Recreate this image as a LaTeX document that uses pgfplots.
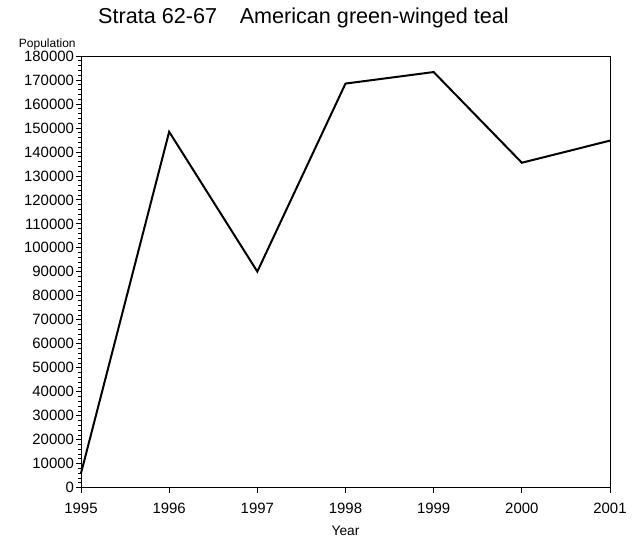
\documentclass[border=0pt]{standalone}
\usepackage{pgfplots}
\pgfplotsset{compat=1.18}
\usepackage{fontspec}
\setmainfont{Liberation Sans}
\begin{document}
\begin{tikzpicture}
\begin{axis}[
  name=ax,
  scale only axis,
  width=396.75pt, height=323.75pt,
  xmin=1995, xmax=2001,
  ymin=0, ymax=180000,
  xtick={1995,1996,...,2001},
  ytick={0,10000,...,180000},
  minor x tick num=9,
  minor y tick num=4,
  tick align=outside,
  xtick pos=bottom, ytick pos=left,
  major tick length=3.75pt,
  minor tick length=2pt,
  axis line style={line width=0.6pt},
  tick style={line width=0.6pt, black},
  scaled ticks=false,
  /pgf/number format/assume math mode=true,
  xticklabel={\pgfmathprintnumber[fixed,1000 sep={}]{\tick}},
  yticklabel={\pgfmathprintnumber[fixed,1000 sep={}]{\tick}},
  ticklabel style={font=\fontsize{11.2pt}{13pt}\selectfont},
  yticklabel style={xshift=2pt},
  xticklabel style={yshift=-4pt},
  xlabel={Year},
  xlabel style={font=\fontsize{10.3pt}{12pt}\selectfont, yshift=-3pt},
  clip=false,
]
\addplot[black, line width=1.5pt] coordinates {
  (1995,6000) (1996,148400) (1997,90100) (1998,168500) (1999,173300) (2000,135500) (2001,144700)
};
\end{axis}
\node[anchor=east, font=\fontsize{9pt}{11pt}\selectfont] at ([shift={(-0.5pt,9pt)}]ax.north west) {Population};
\node[font=\fontsize{16.2pt}{19pt}\selectfont] at ([shift={(-31.5pt,28.5pt)}]ax.north) {Strata 62-67\hspace{1.05em}American green-winged teal};
\pgfresetboundingbox
\path ([shift={(-60.75pt,-39.75pt)}]ax.south west) rectangle ([shift={(20.25pt,42pt)}]ax.north east);
\end{tikzpicture}
\end{document}
